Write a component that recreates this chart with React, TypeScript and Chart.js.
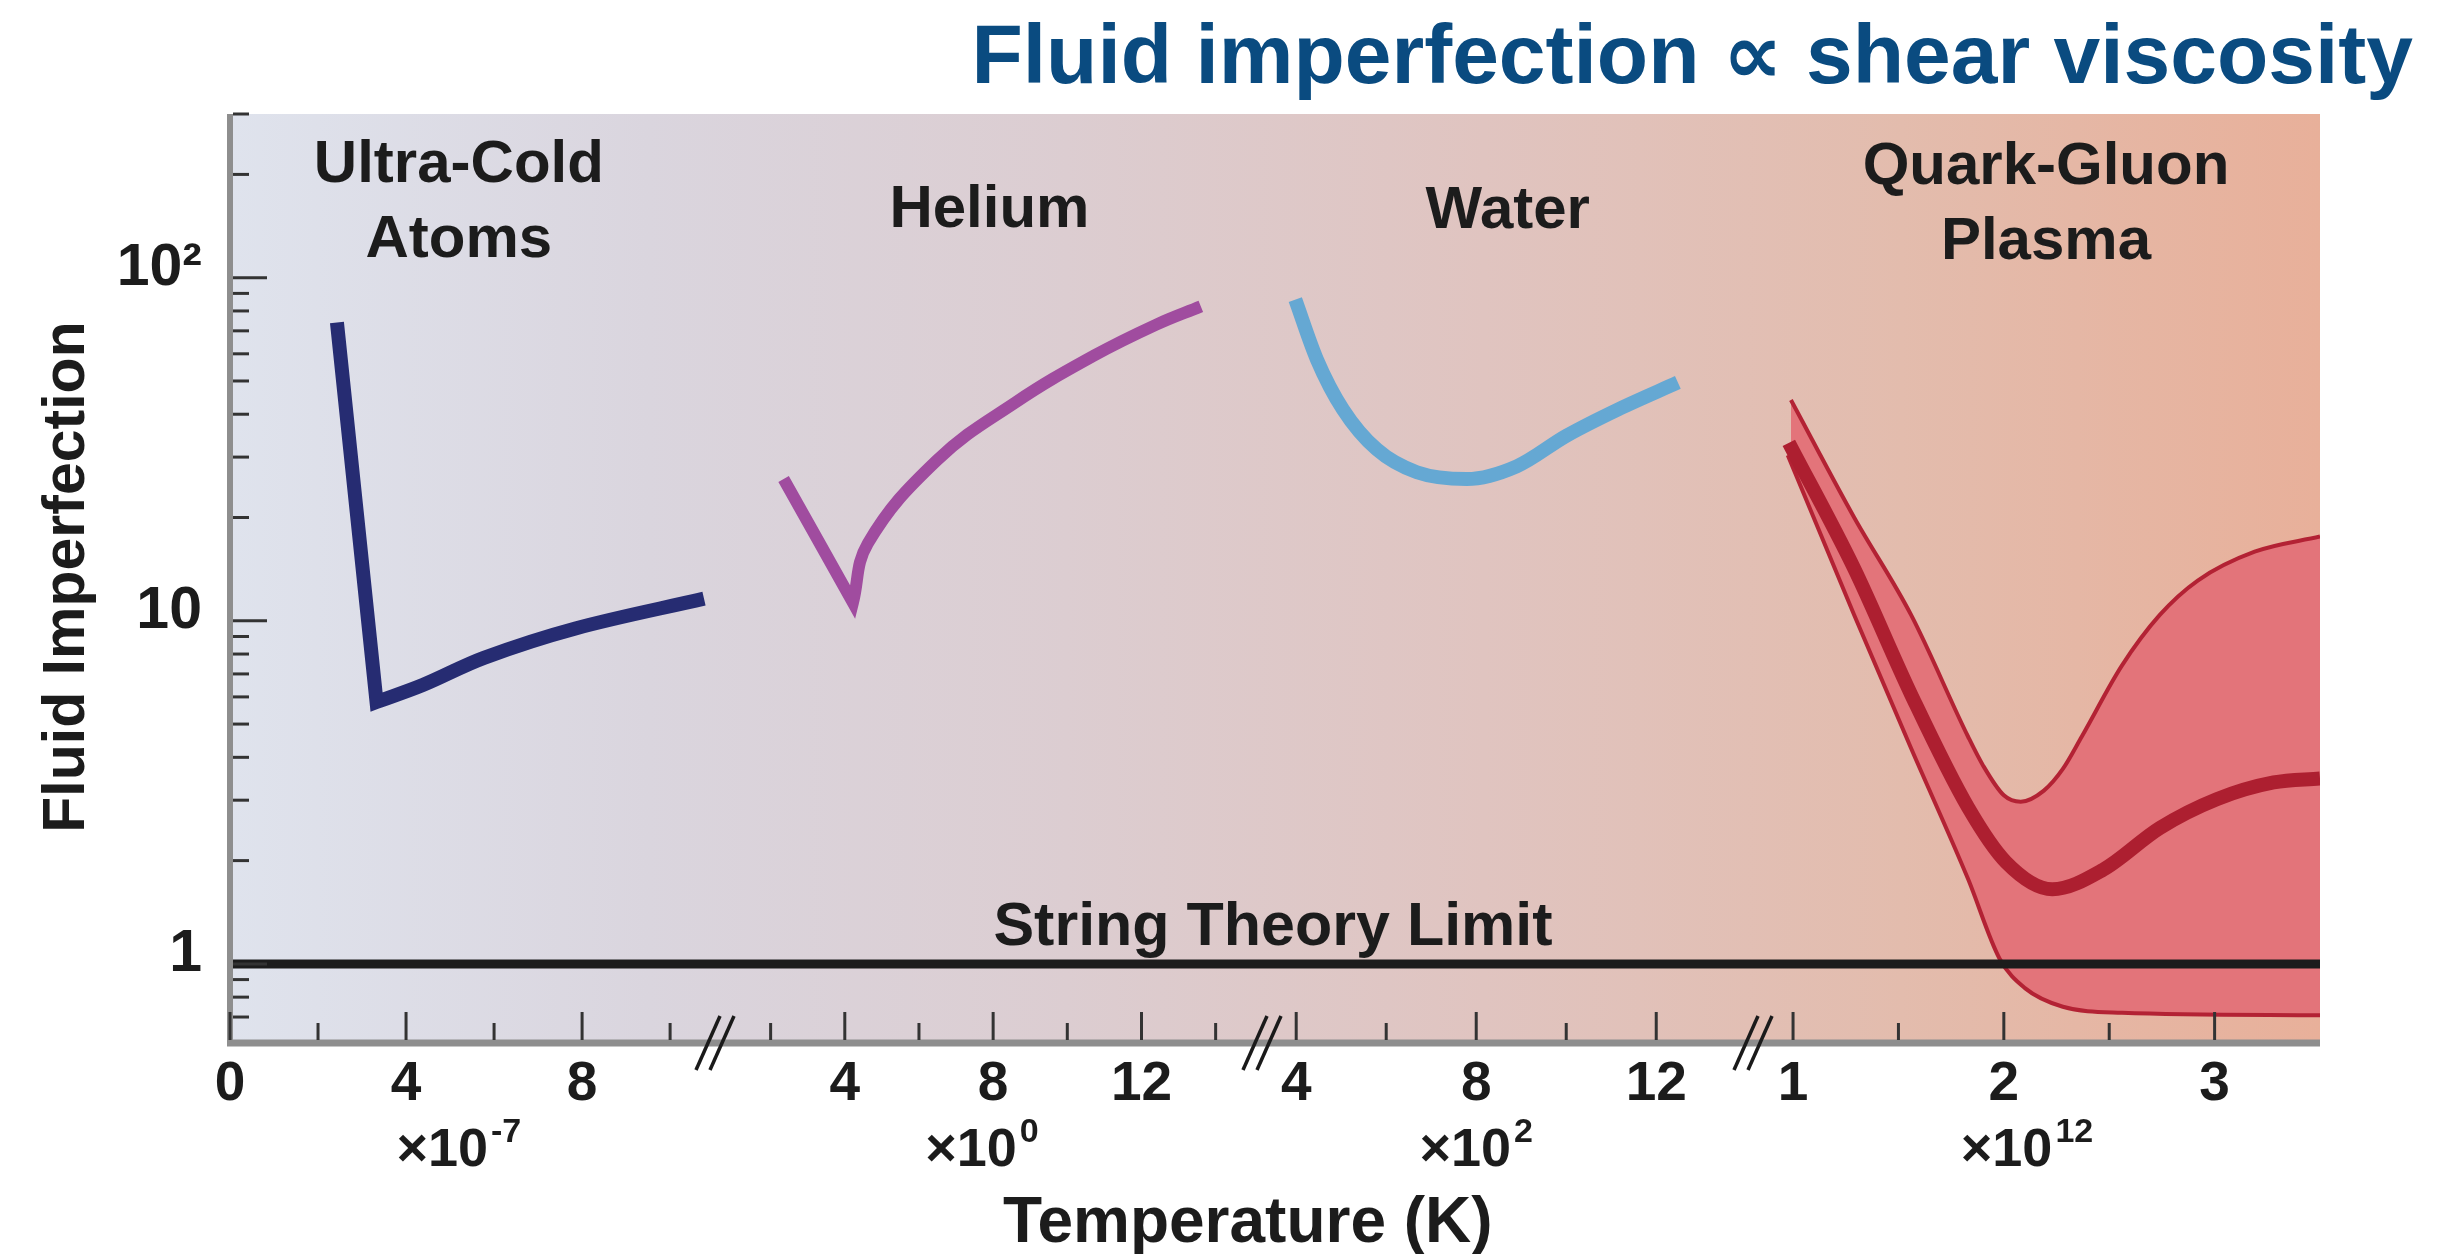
import React, { useEffect, useRef } from "react";
import { Chart, registerables } from "chart.js";

Chart.register(...registerables);

// ---------------- data ----------------
const FLUIDS = ["Ultra-Cold Atoms", "Helium", "Water", "Quark-Gluon Plasma"];
const EXPONENTS = ["-7", "0", "2", "12"];
const TITLE = "Fluid imperfection \u221D shear viscosity";
const X_TITLE = "Temperature (K)";
const Y_TITLE = "Fluid Imperfection";
const LIMIT_LABEL = "String Theory Limit";
const STRING_LIMIT = 1;

// the vertex (sharp corner) of each V-shaped curve is listed twice
const ATOMS_T = [2.43, 3.33, 3.33, 4.38, 5.77, 7.85, 10.77];
const ATOMS_ETA = [74, 5.8, 5.8, 6.5, 7.8, 9.5, 11.6];

const HELIUM_T = [2.35, 4.22, 4.22, 4.62, 6.49, 8.6, 10.71, 12.4, 13.6];
const HELIUM_ETA = [25.9, 11.3, 11.3, 16.8, 29.4, 43.3, 59.2, 73, 82.5];

const WATER_T = [3.98, 4.46, 5.04, 5.79, 6.68, 7.79, 8.9, 10.0, 11.15, 12.48];
const WATER_ETA = [86.3, 57.8, 41.3, 31.6, 27.1, 25.9, 28.2, 34.6, 41.3, 49.5];

const QGP_MID_T = [0.98, 1.29, 1.56, 1.83, 2.01, 2.23, 2.47, 2.74, 3.01, 3.28, 3.5];
const QGP_MID_ETA = [33, 14.2, 6.1, 2.86, 1.98, 1.65, 1.88, 2.49, 3.02, 3.38, 3.47];

const QGP_HIGH_T = [0.99, 1.29, 1.56, 1.83, 1.9, 2.0, 2.08, 2.19, 2.28, 2.37, 2.56, 2.74, 2.92, 3.19, 3.5];
const QGP_HIGH_ETA = [44, 20, 10.4, 4.6, 3.8, 3.1, 2.97, 3.2, 3.7, 4.6, 7.4, 10.4, 13.1, 15.9, 17.6];

const QGP_LOW_T = [0.975, 1.29, 1.56, 1.83, 1.98, 2.1, 2.28, 2.56, 3.5];
const QGP_LOW_ETA = [30.4, 10.4, 4.25, 1.77, 1.035, 0.85, 0.75, 0.72, 0.708];

const X_TICKS = [
  [0, 2, 4, 6, 8, 10],
  [2, 4, 6, 8, 10, 12, 14],
  [4, 6, 8, 10, 12],
  [1, 1.5, 2, 2.5, 3],
];
const X_LABELED = [
  [0, 4, 8],
  [4, 8, 12],
  [4, 8, 12],
  [1, 2, 3],
];
const Y_TICKS = [0.7, 0.8, 0.9, 1, 2, 3, 4, 5, 6, 7, 8, 9, 10, 20, 30, 40, 50, 60, 70, 80, 90, 100, 200, 300];
const Y_LABELS: Record<string, string> = { "1": "1", "10": "10", "100": "10\u00B2" };

// ---------------- axis / layout config ----------------
const SEGMENTS = [
  { id: "x1", min: 0, max: 11.02, weight: 485 },
  { id: "x2", min: 0.5, max: 15.25, weight: 547 },
  { id: "x3", min: 3.24, max: 14.15, weight: 491 },
  { id: "x4", min: 0.81, max: 3.5, weight: 567 },
];
const Y_MIN = 0.61;
const Y_MAX = 300;

const FAMILY = '"Liberation Sans", Arial, Helvetica, "DejaVu Sans", sans-serif';
const INK = "#1c1c1c";

// annotation anchors (data coordinates on each segment)
const FLUID_LABEL_AT = [
  { x: 5.2, y: 190 },
  { x: 7.9, y: 141 },
  { x: 8.7, y: 140 },
  { x: 2.2, y: 188 },
];
const MULT_AT = [5.2, 7.7, 8.0, 2.11];

const pts = (xs: number[], ys: number[]) => xs.map((x, i) => ({ x, y: ys[i] }));

const decor = {
  id: "decor",
  beforeDraw(chart: any) {
    const { ctx, chartArea: a } = chart;
    const g = ctx.createLinearGradient(a.left, 0, a.right, 0);
    g.addColorStop(0, "#dfe3ed");
    g.addColorStop(0.2, "#dad5de");
    g.addColorStop(0.4, "#dccdd1");
    g.addColorStop(0.6, "#e0c4c0");
    g.addColorStop(0.8, "#e3bcad");
    g.addColorStop(1, "#e8b09a");
    ctx.save();
    ctx.fillStyle = g;
    ctx.fillRect(a.left, a.top, a.right - a.left, a.bottom - a.top);
    ctx.restore();
  },
  afterDatasetsDraw(chart: any) {
    const { ctx, chartArea: a } = chart;
    ctx.save();
    const line = (x1: number, y1: number, x2: number, y2: number) => {
      ctx.beginPath();
      ctx.moveTo(x1, y1);
      ctx.lineTo(x2, y2);
      ctx.stroke();
    };
    // axis lines
    ctx.strokeStyle = "#8e8e8e";
    ctx.lineWidth = 7;
    line(a.left - 3, a.bottom + 3, a.right, a.bottom + 3);
    ctx.lineWidth = 6;
    line(a.left, a.top, a.left, a.bottom + 6);
    // tick marks (inward)
    ctx.strokeStyle = "#333";
    ctx.lineWidth = 3;
    SEGMENTS.forEach((seg, k) => {
      const s = chart.scales[seg.id];
      s.ticks.forEach((t: any) => {
        const px = s.getPixelForValue(t.value);
        const len = X_LABELED[k].includes(t.value) ? 28 : 17;
        line(px, a.bottom, px, a.bottom - len);
      });
    });
    const ys = chart.scales.y;
    ys.ticks.forEach((t: any) => {
      const py = ys.getPixelForValue(t.value);
      const len = Y_LABELS[String(t.value)] ? 34 : 16;
      line(a.left + 3, py, a.left + 3 + len, py);
    });
    // axis break marks
    ctx.strokeStyle = "#1a1a1a";
    ctx.lineWidth = 3.5;
    for (let k = 0; k < SEGMENTS.length - 1; k++) {
      const bx = chart.scales[SEGMENTS[k].id].right;
      for (let j = 0; j < 2; j++) {
        const ox = bx - 7 + j * 14;
        line(ox - 12, a.bottom + 30, ox + 12, a.bottom - 24);
      }
    }
    ctx.restore();
  },
  afterDraw(chart: any) {
    const { ctx, chartArea: a } = chart;
    ctx.save();
    ctx.textBaseline = "alphabetic";
    ctx.fillStyle = INK;
    // fluid labels
    ctx.font = `bold 60px ${FAMILY}`;
    ctx.textAlign = "center";
    FLUIDS.forEach((name, k) => {
      const s = chart.scales[SEGMENTS[k].id];
      const x = s.getPixelForValue(FLUID_LABEL_AT[k].x);
      const y = chart.scales.y.getPixelForValue(FLUID_LABEL_AT[k].y);
      name.split(" ").forEach((ln, i) => ctx.fillText(ln, x, y + i * 75));
    });
    // string theory label
    ctx.font = `bold 61px ${FAMILY}`;
    ctx.fillText(LIMIT_LABEL, (a.left + a.right) / 2 - 2, chart.scales.y.getPixelForValue(STRING_LIMIT) - 19);
    // multipliers
    EXPONENTS.forEach((e, k) => {
      const s = chart.scales[SEGMENTS[k].id];
      const cx = s.getPixelForValue(MULT_AT[k]);
      ctx.font = `bold 54px ${FAMILY}`;
      const w1 = ctx.measureText("\u00D710").width;
      ctx.font = `bold 34px ${FAMILY}`;
      const w2 = ctx.measureText(e).width;
      const x0 = cx - (w1 + 3 + w2) / 2;
      const base = a.bottom + 126;
      ctx.textAlign = "left";
      ctx.font = `bold 54px ${FAMILY}`;
      ctx.fillText("\u00D710", x0, base);
      ctx.font = `bold 34px ${FAMILY}`;
      ctx.fillText(e, x0 + w1 + 3, base - 24);
    });
    // x title
    ctx.textAlign = "center";
    ctx.font = `bold 64px ${FAMILY}`;
    ctx.fillText(X_TITLE, a.left + 0.487 * (a.right - a.left), a.bottom + 202);
    // main title
    ctx.textAlign = "right";
    ctx.fillStyle = "#0a4b80";
    ctx.font = `bold 84px ${FAMILY}`;
    ctx.fillText(TITLE, chart.width - 36, 83);
    ctx.restore();
  },
};

export default function App() {
  const ref = useRef<HTMLCanvasElement | null>(null);

  useEffect(() => {
    document.body.style.margin = "0";
    document.body.style.overflow = "hidden";
    if (!ref.current) return;

    const thin = { pointRadius: 0, fill: false, borderCapStyle: "butt" as const };
    const datasets: any[] = [
      ...SEGMENTS.map((s) => ({
        ...thin,
        label: LIMIT_LABEL,
        xAxisID: s.id,
        yAxisID: "y",
        data: [
          { x: s.min, y: STRING_LIMIT },
          { x: s.max, y: STRING_LIMIT },
        ],
        borderColor: "#1c1c1c",
        borderWidth: 9,
      })),
      {
        ...thin,
        label: FLUIDS[0],
        xAxisID: "x1",
        yAxisID: "y",
        data: pts(ATOMS_T, ATOMS_ETA),
        borderColor: "#262c72",
        borderWidth: 14,
        tension: 0.35,
        borderJoinStyle: "miter",
      },
      {
        ...thin,
        label: FLUIDS[1],
        xAxisID: "x2",
        yAxisID: "y",
        data: pts(HELIUM_T, HELIUM_ETA),
        borderColor: "#a04c9f",
        borderWidth: 12,
        tension: 0.4,
        borderJoinStyle: "miter",
      },
      {
        ...thin,
        label: FLUIDS[2],
        xAxisID: "x3",
        yAxisID: "y",
        data: pts(WATER_T, WATER_ETA),
        borderColor: "#65a8d3",
        borderWidth: 14,
        cubicInterpolationMode: "monotone",
      },
      {
        ...thin,
        label: FLUIDS[3],
        xAxisID: "x4",
        yAxisID: "y",
        data: pts(QGP_MID_T, QGP_MID_ETA),
        borderColor: "#ad1f30",
        borderWidth: 14,
        cubicInterpolationMode: "monotone",
      },
      {
        ...thin,
        label: FLUIDS[3] + " (upper)",
        xAxisID: "x4",
        yAxisID: "y",
        data: pts(QGP_HIGH_T, QGP_HIGH_ETA),
        borderColor: "#b32234",
        borderWidth: 4,
        cubicInterpolationMode: "monotone",
      },
      {
        ...thin,
        label: FLUIDS[3] + " (lower)",
        xAxisID: "x4",
        yAxisID: "y",
        data: pts(QGP_LOW_T, QGP_LOW_ETA),
        borderColor: "#b32234",
        borderWidth: 4,
        cubicInterpolationMode: "monotone",
        fill: "-1",
        backgroundColor: "#e3747a",
      },
    ];

    const scales: any = {
      y: {
        type: "logarithmic",
        position: "left",
        min: Y_MIN,
        max: Y_MAX,
        grid: { display: false, drawTicks: false },
        border: { display: false },
        afterBuildTicks: (axis: any) => {
          axis.ticks = Y_TICKS.map((v) => ({ value: v }));
        },
        afterFit: (axis: any) => {
          axis.width = 230;
        },
        ticks: {
          autoSkip: false,
          padding: 28,
          labelOffset: -9,
          color: INK,
          font: { family: FAMILY, size: 59, weight: "bold" },
          callback: (v: number) => Y_LABELS[String(v)] ?? "",
        },
        title: {
          display: true,
          text: Y_TITLE,
          color: INK,
          font: { family: FAMILY, size: 59, weight: "bold" },
          padding: { top: 32, bottom: 0 },
        },
      },
    };
    SEGMENTS.forEach((seg, k) => {
      scales[seg.id] = {
        type: "linear",
        position: "bottom",
        stack: "temperature",
        stackWeight: seg.weight,
        min: seg.min,
        max: seg.max,
        offset: false,
        grid: { display: false, drawTicks: false },
        border: { display: false },
        afterBuildTicks: (axis: any) => {
          axis.ticks = X_TICKS[k].map((v) => ({ value: v }));
        },
        afterFit: (axis: any) => {
          axis.height = 214;
        },
        ticks: {
          autoSkip: false,
          maxRotation: 0,
          minRotation: 0,
          padding: 12,
          color: INK,
          font: { family: FAMILY, size: 55, weight: "bold" },
          callback: (v: number) => (X_LABELED[k].includes(v) ? String(v) : ""),
        },
      };
    });

    const chart = new Chart(ref.current, {
      type: "line",
      data: { datasets },
      options: {
        responsive: true,
        maintainAspectRatio: false,
        animation: false,
        events: [],
        layout: { padding: { left: 0, top: 114, right: 129, bottom: 0 } },
        plugins: {
          legend: { display: false },
          title: { display: false },
          tooltip: { enabled: false },
        },
        elements: { point: { radius: 0 } },
        scales,
      },
      plugins: [decor],
    } as any);

    return () => chart.destroy();
  }, []);

  return (
    <div style={{ position: "relative", width: "2449px", height: "1254px", background: "#ffffff" }}>
      <canvas ref={ref} />
    </div>
  );
}
